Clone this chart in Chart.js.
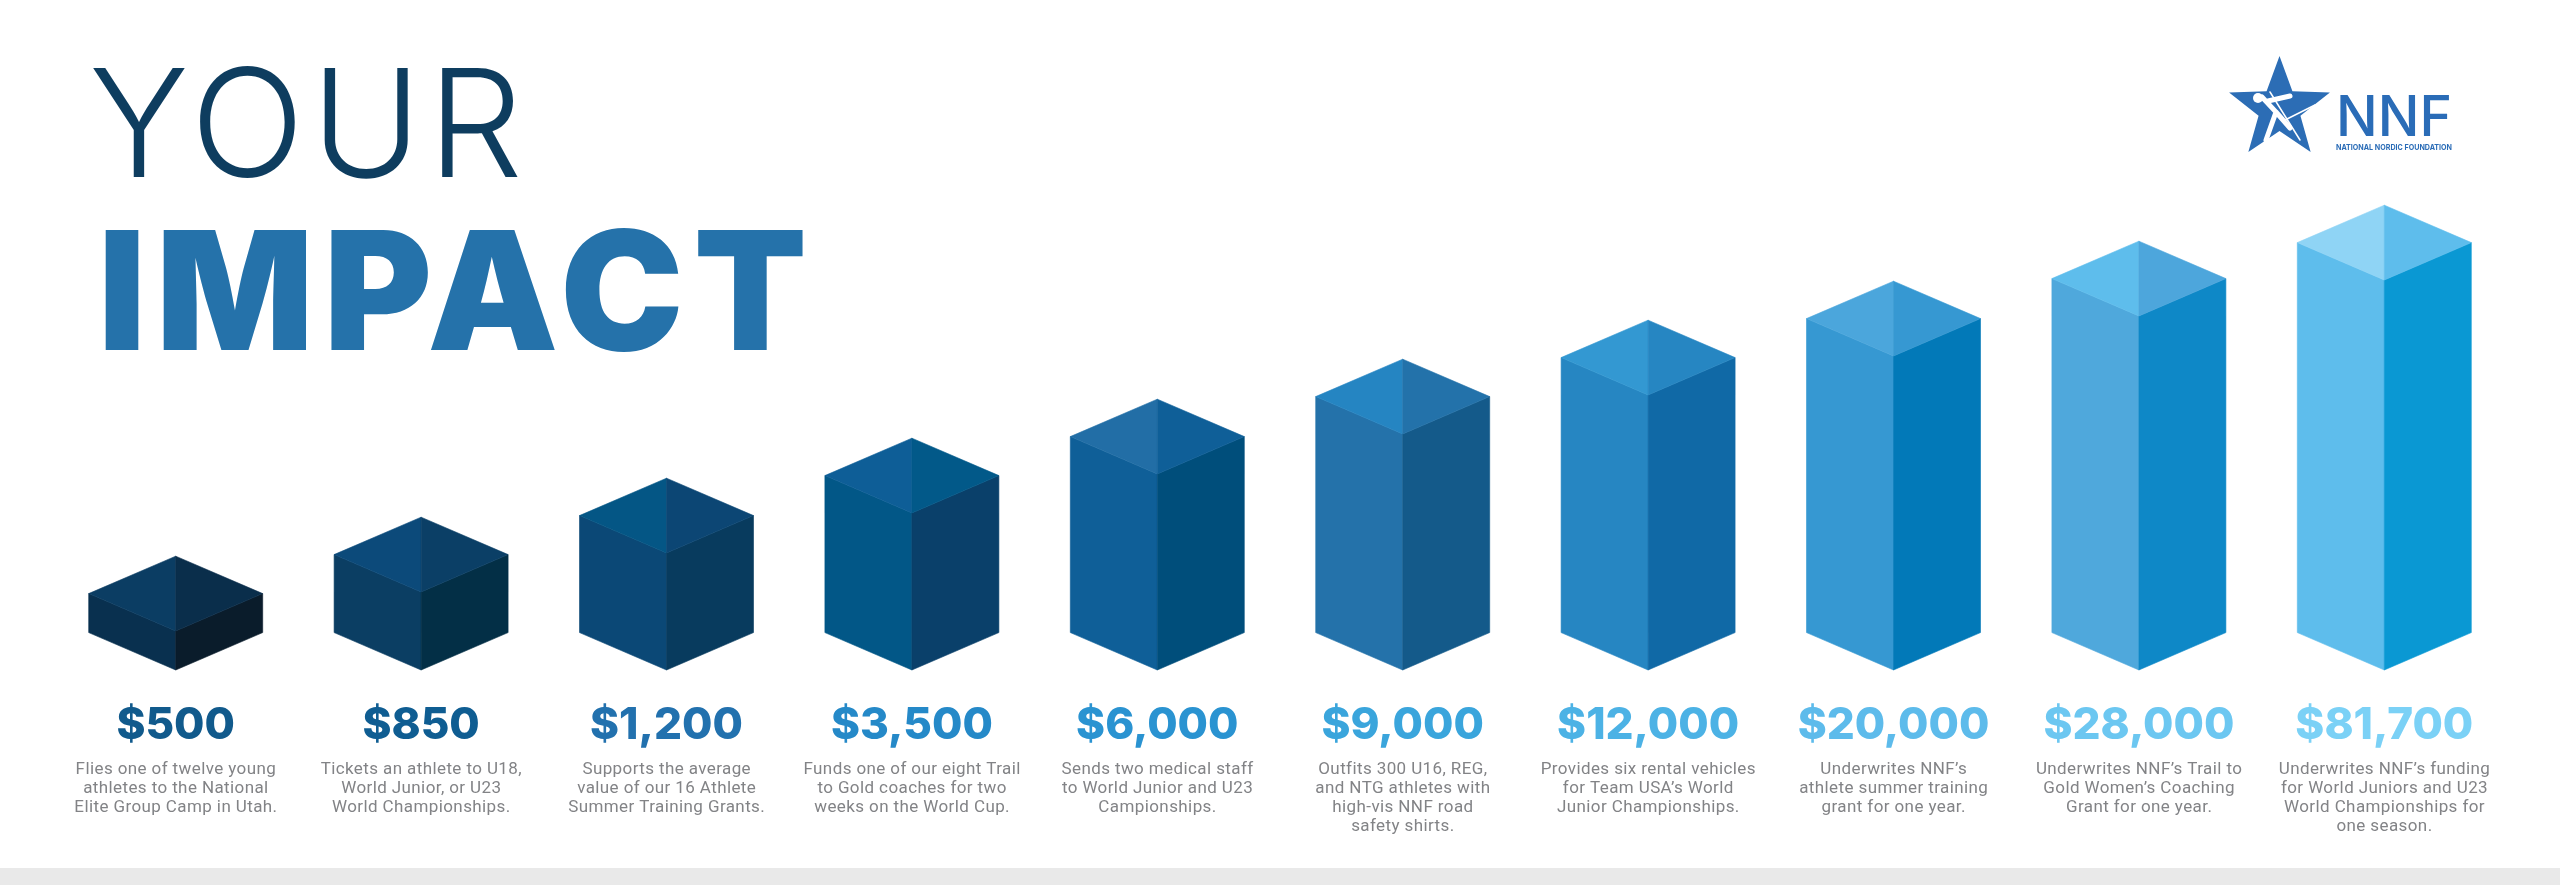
<!DOCTYPE html>
<html>
<head>
<meta charset="utf-8">
<title>Your Impact</title>
<script src="https://cdn.jsdelivr.net/npm/chart.js@4.4.1/dist/chart.umd.min.js"></script>
<style>
  html, body { margin: 0; padding: 0; background: #ffffff; }
  #wrap { width: 2560px; height: 885px; position: relative; }
  canvas { display: block; }
</style>
</head>
<body>
<div id="wrap"><canvas id="c" width="2560" height="885"></canvas></div>
<script>
// ---- data ----
const categories = ['$500', '$850', '$1,200', '$3,500', '$6,000', '$9,000', '$12,000', '$20,000', '$28,000', '$81,700'];
// visual height of each column's front edge
const cubeHeights = [39, 78, 117, 157, 196, 236, 275, 314, 354, 390];
const descriptions = [
  ['Flies one of twelve young', 'athletes to the National', 'Elite Group Camp in Utah.'],
  ['Tickets an athlete to U18,', 'World Junior, or U23', 'World Championships.'],
  ['Supports the average', 'value of our 16 Athlete', 'Summer Training Grants.'],
  ['Funds one of our eight Trail', 'to Gold coaches for two', 'weeks on the World Cup.'],
  ['Sends two medical staff', 'to World Junior and U23', 'Campionships.'],
  ['Outfits 300 U16, REG,', 'and NTG athletes with', 'high-vis NNF road', 'safety shirts.'],
  ['Provides six rental vehicles', 'for Team USA\u2019s World', 'Junior Championships.'],
  ['Underwrites NNF\u2019s', 'athlete summer training', 'grant for one year.'],
  ['Underwrites NNF\u2019s Trail to', 'Gold Women\u2019s Coaching', 'Grant for one year.'],
  ['Underwrites NNF\u2019s funding', 'for World Juniors and U23', 'World Championships for', 'one season.']
];
const titleLine1 = 'YOUR';
const titleLine2 = 'IMPACT';
const logoText = 'NNF';
const logoSubText = 'NATIONAL NORDIC FOUNDATION';

// ---- colours ----
const topLeftColors  = ['#0b3d63', '#0c4a7a', '#045685', '#0e5e97', '#226ea6', '#2585c2', '#3398d2', '#4ba6dc', '#5ebdec', '#8fd4f5'];
const topRightColors = ['#0a2e4b', '#0b3f66', '#0c4674', '#025989', '#0f5f98', '#2372aa', '#2686c2', '#3698d2', '#4da6dc', '#5ebdec'];
const leftColors     = ['#09304f', '#0b3e63', '#0b4876', '#025787', '#0f5f98', '#2472aa', '#2686c2', '#3698d2', '#4fa8dc', '#5ebdec'];
const rightColors    = ['#0a1c2b', '#032f46', '#083b5e', '#0a406a', '#004e7b', '#145a8a', '#1069a6', '#0279b8', '#0e88c7', '#0a98d3'];
const amountColors   = ['#115a8c', '#0f5d92', '#2271ae', '#2589c8', '#2a93d1', '#3aa5dc', '#4cb2e5', '#5dbbeb', '#6cc7f1', '#7bd1f6'];

function fitText(ctx, text, font, left, right, baseline, color) {
  ctx.save();
  ctx.font = font;
  ctx.fillStyle = color;
  ctx.textAlign = 'left';
  ctx.textBaseline = 'alphabetic';
  const target = right - left;
  const n = text.length;
  let w = ctx.measureText(text).width;
  if ('letterSpacing' in ctx && n > 1) {
    const ls = (target - w) / (n - 1);
    if (ls >= 0) {
      ctx.letterSpacing = ls + 'px';
      ctx.fillText(text, left, baseline);
      ctx.restore();
      return;
    }
  }
  ctx.translate(left, baseline);
  ctx.scale(target / w, 1);
  ctx.fillText(text, 0, 0);
  ctx.restore();
}

const backgroundPlugin = {
  id: 'bg',
  beforeDraw(chart) {
    const ctx = chart.ctx;
    ctx.save();
    ctx.fillStyle = '#ffffff';
    ctx.fillRect(0, 0, chart.width, chart.height);
    ctx.fillStyle = '#e9e9e9';
    ctx.fillRect(0, 868, chart.width, chart.height - 868);
    ctx.restore();
  }
};

const titlePlugin = {
  id: 'titles',
  afterDraw(chart) {
    const ctx = chart.ctx;
    fitText(ctx, titleLine1, '300 150px Inter', 89, 523, 177, '#0e3d5f');
    fitText(ctx, titleLine2, '900 165px Inter', 98, 807, 350, '#2572aa');

    // logo star
    ctx.save();
    const cx = 2279.5, cy = 109, R = 53, r = 22;
    ctx.beginPath();
    for (let k = 0; k < 10; k++) {
      const ang = -Math.PI / 2 + k * Math.PI / 5;
      const rad = k % 2 === 0 ? R : r;
      const px = cx + rad * Math.cos(ang), py = cy + rad * Math.sin(ang);
      if (k === 0) ctx.moveTo(px, py); else ctx.lineTo(px, py);
    }
    ctx.closePath();
    ctx.fillStyle = '#2c6db5';
    ctx.fill();
    // skier hint
    ctx.strokeStyle = '#ffffff';
    ctx.lineCap = 'round';
    ctx.lineWidth = 5;
    ctx.beginPath();
    ctx.moveTo(2262, 97); ctx.lineTo(2276, 112); ctx.lineTo(2266, 140);
    ctx.moveTo(2276, 112); ctx.lineTo(2290, 128);
    ctx.moveTo(2268, 101); ctx.lineTo(2290, 96);
    ctx.stroke();
    ctx.beginPath();
    ctx.arc(2258, 98, 5, 0, Math.PI * 2);
    ctx.fillStyle = '#ffffff';
    ctx.fill();
    ctx.lineWidth = 1.5;
    ctx.beginPath();
    ctx.moveTo(2270, 92); ctx.lineTo(2300, 140);
    ctx.moveTo(2285, 120); ctx.lineTo(2315, 105);
    ctx.stroke();
    ctx.restore();

    fitText(ctx, logoText, '500 56px Inter', 2336, 2452, 136, '#2a6cb7');
    fitText(ctx, logoSubText, '700 8px Inter', 2336, 2452, 150, '#2a6cb7');
  }
};

const cubePlugin = {
  id: 'cubes',
  afterDatasetsDraw(chart) {
    const ctx = chart.ctx;
    const meta = chart.getDatasetMeta(0);
    meta.data.forEach((bar, i) => {
      const p = bar.getProps(['x', 'y', 'base', 'width'], true);
      const x = p.x, y = p.y, base = p.base, hw = p.width / 2;
      const d = hw * 0.43;
      const poly = (pts, color) => {
        ctx.beginPath();
        ctx.moveTo(pts[0][0], pts[0][1]);
        for (let k = 1; k < pts.length; k++) ctx.lineTo(pts[k][0], pts[k][1]);
        ctx.closePath();
        ctx.fillStyle = color;
        ctx.fill();
        ctx.strokeStyle = color;
        ctx.lineWidth = 0.6;
        ctx.stroke();
      };
      ctx.save();
      poly([[x - hw, y - d], [x, y], [x, base], [x - hw, base - d]], leftColors[i]);
      poly([[x, y], [x + hw, y - d], [x + hw, base - d], [x, base]], rightColors[i]);
      poly([[x, y - 2 * d], [x - hw, y - d], [x, y]], topLeftColors[i]);
      poly([[x, y - 2 * d], [x + hw, y - d], [x, y]], topRightColors[i]);
      ctx.restore();
    });
  }
};

const labelPlugin = {
  id: 'labels',
  afterDraw(chart) {
    const ctx = chart.ctx;
    const xs = chart.scales.x;
    ctx.save();
    ctx.textAlign = 'center';
    ctx.textBaseline = 'alphabetic';
    categories.forEach((cat, i) => {
      const x = xs.getPixelForValue(i);
      ctx.font = '800 44px Inter';
      ctx.fillStyle = amountColors[i];
      if ('letterSpacing' in ctx) ctx.letterSpacing = '0px';
      ctx.fillText(cat, x, 739);
      ctx.font = '400 17px Roboto';
      ctx.fillStyle = '#828386';
      if ('letterSpacing' in ctx) ctx.letterSpacing = '0.4px';
      descriptions[i].forEach((line, k) => {
        ctx.fillText(line, x + 0.2, 774 + 19 * k);
      });
    });
    ctx.restore();
  }
};

new Chart(document.getElementById('c'), {
  type: 'bar',
  data: {
    labels: categories,
    datasets: [{
      label: 'Your impact',
      data: cubeHeights,
      backgroundColor: 'rgba(0,0,0,0)',
      borderWidth: 0,
      barThickness: 174
    }]
  },
  options: {
    responsive: false,
    animation: false,
    devicePixelRatio: 1,
    layout: { padding: { left: 53, right: 53, top: 100, bottom: 215 } },
    plugins: { legend: { display: false }, tooltip: { enabled: false }, title: { display: false } },
    scales: {
      x: { display: false, offset: true, grid: { display: false } },
      y: { display: false, min: 0, max: 570, grid: { display: false } }
    }
  },
  plugins: [backgroundPlugin, cubePlugin, labelPlugin, titlePlugin]
});
</script>
</body>
</html>
